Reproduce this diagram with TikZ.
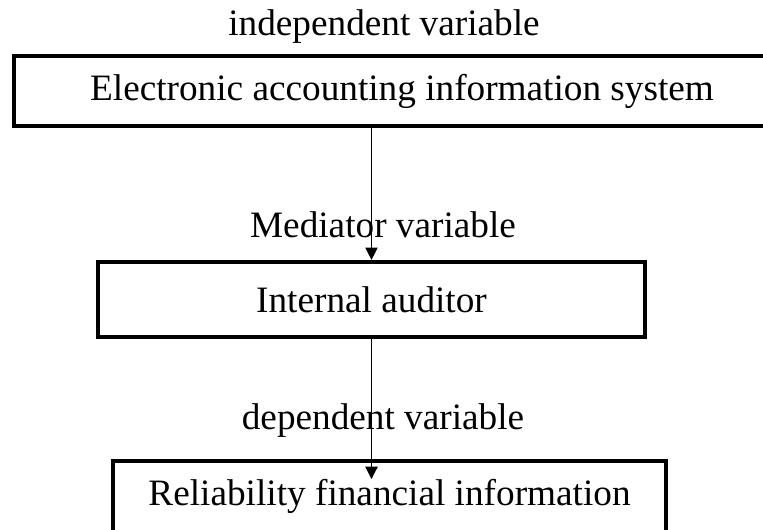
\documentclass[tikz,border=0pt]{standalone}
\usepackage{fontspec}
\setmainfont{Liberation Serif}
\usetikzlibrary{arrows.meta}

\begin{document}
\begin{tikzpicture}[x=0.02cm,y=-0.02cm,>={Triangle[length=7pt,width=7pt]},
  frame/.style={draw,line width=2.4pt,rectangle,inner sep=0pt},
  txt/.style={font=\fontsize{21.2}{25}\selectfont,inner sep=0pt}]
  \useasboundingbox (0,0) rectangle (763,530);
  \node[txt] (ind) at (384,27) {independent variable};
  \node[frame,txt,minimum width=15.52cm,minimum height=1.4cm] (eais) at (402,91) {Electronic accounting information system};
  \node[txt] (med) at (383,225) {Mediator variable};
  \node[frame,txt,minimum width=10.94cm,minimum height=1.5cm] (aud) at (371.5,299.5) {Internal auditor};
  \node[txt] (dep) at (383,421) {dependent variable};
  \node[frame,txt,minimum width=11.06cm,minimum height=1.42cm] (rel) at (389.5,496.5) {Reliability financial information};
  \coordinate (tip) at (371.5,479);
  \draw[->,line width=0.7pt] (eais.south -| aud) -- (aud.north);
  \draw[->,line width=0.7pt] (aud.south) -- (tip);
\end{tikzpicture}
\end{document}
